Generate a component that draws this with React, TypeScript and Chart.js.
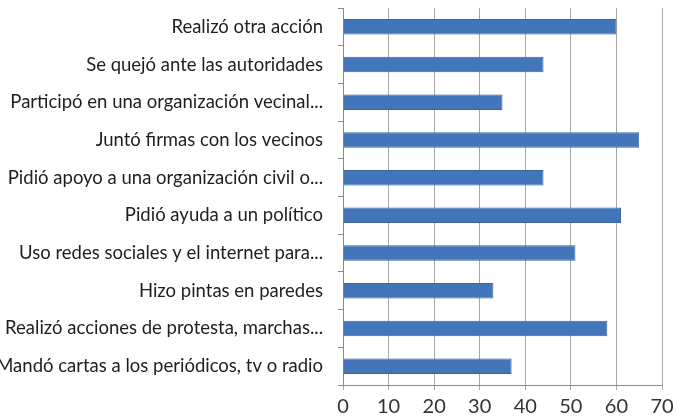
import React, { useEffect, useRef } from "react";
import { Chart, registerables } from "chart.js";

Chart.register(...registerables);

const categories = [
  "Realizó otra acción",
  "Se quejó ante las autoridades",
  "Participó en una organización vecinal...",
  "Juntó firmas con los vecinos",
  "Pidió apoyo a una organización civil o...",
  "Pidió ayuda a un político",
  "Uso redes sociales y el internet para...",
  "Hizo pintas en paredes",
  "Realizó acciones de protesta, marchas...",
  "Mandó cartas a los periódicos, tv o radio",
];
const values = [60, 44, 35, 65, 44, 61, 51, 33, 58, 37];
const xTicks = [0, 10, 20, 30, 40, 50, 60, 70];

export default function App() {
  const ref = useRef<HTMLCanvasElement>(null);
  useEffect(() => {
    const chart = new Chart(ref.current!, {
      type: "bar",
      data: {
        labels: categories,
        datasets: [
          {
            data: values,
            backgroundColor: "#4275b9",
            borderColor: "#3765a0",
            borderWidth: 1,
            barPercentage: 0.41,
            categoryPercentage: 1,
          },
        ],
      },
      options: {
        indexAxis: "y",
        animation: false,
        responsive: false,
        layout: { padding: { top: 8, right: 15, left: 0, bottom: 0 } },
        plugins: { legend: { display: false }, tooltip: { enabled: false } },
        scales: {
          x: {
            min: xTicks[0],
            max: xTicks[xTicks.length - 1],
            afterBuildTicks: (s: any) => {
              s.ticks = xTicks.map((v) => ({ value: v }));
            },
            afterFit: (s: any) => {
              s.height = 35;
              s.paddingLeft = 0;
              s.paddingRight = 0;
            },
            grid: {
              color: "#a8a8a8",
              lineWidth: 1,
              tickLength: 5,
            },
            border: { display: true, color: "#8a8a8a" },
            ticks: {
              color: "#333333",
              font: { family: "Lato", size: 20 },
              padding: 5,
            },
          },
          y: {
            afterFit: (s: any) => {
              s.width = 363;
              s.paddingTop = 0;
              s.paddingBottom = 0;
            },
            grid: {
              offset: true,
              drawOnChartArea: false,
              color: "#8a8a8a",
              tickLength: 5,
            },
            border: { display: true, color: "#8a8a8a" },
            ticks: {
              color: "#1e1e1e",
              font: { family: "Lato", size: 18.5 },
              padding: 15,
              autoSkip: false,
            },
          },
        },
      },
    });
    return () => chart.destroy();
  }, []);
  return (
    <div style={{ position: "fixed", left: -20, top: 0, width: 697, height: 420, background: "#fff" }}>
      <canvas ref={ref} width={697} height={420} style={{ display: "block" }} />
    </div>
  );
}
